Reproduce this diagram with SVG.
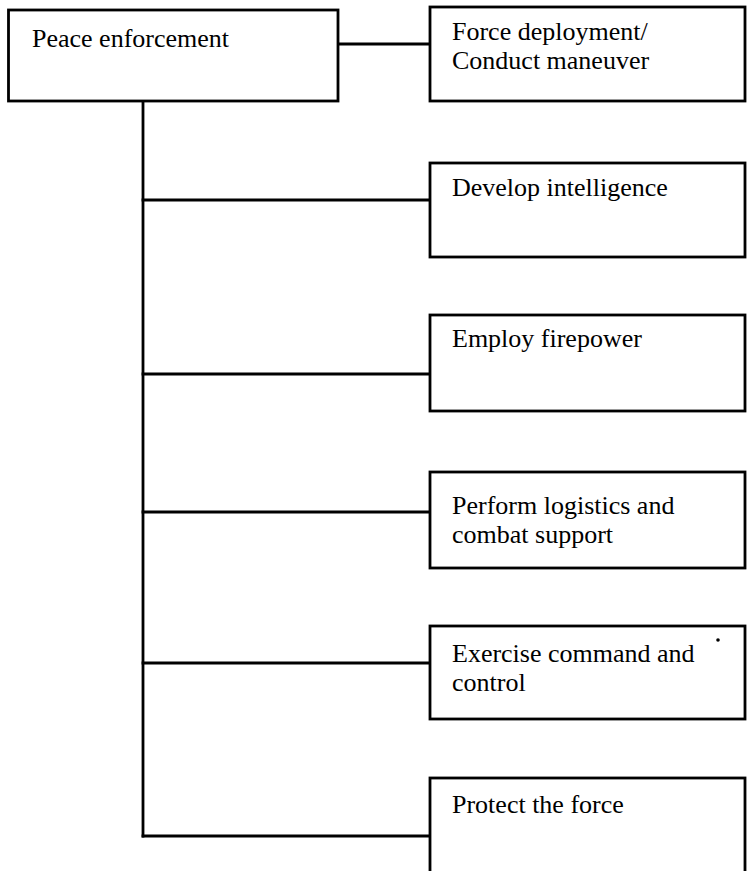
<svg xmlns="http://www.w3.org/2000/svg" width="747" height="871" viewBox="0 0 747 871">
  <style>
    .box { fill: #fff; stroke: #000; stroke-width: 2.8; }
    .wire { fill: none; stroke: #000; stroke-width: 2.8; stroke-linecap: square; }
    .label { font-family: "Liberation Serif", "Times New Roman", serif; font-size: 26px; fill: #000; }
  </style>
  <rect width="747" height="871" fill="#fff"/>

  <!-- connectors: root to first task, spine, and branches -->
  <g id="connectors">
    <line class="wire" x1="338" y1="44" x2="430" y2="44"/>
    <line class="wire" x1="143" y1="101" x2="143" y2="836"/>
    <line class="wire" x1="143" y1="200" x2="430" y2="200"/>
    <line class="wire" x1="143" y1="374" x2="430" y2="374"/>
    <line class="wire" x1="143" y1="512" x2="430" y2="512"/>
    <line class="wire" x1="143" y1="663" x2="430" y2="663"/>
    <line class="wire" x1="143" y1="836" x2="430" y2="836"/>
  </g>

  <g id="peace-enforcement">
    <rect class="box" x="8.5" y="10" width="329.5" height="91"/>
    <text class="label" x="32" y="47">Peace enforcement</text>
  </g>

  <g id="force-deployment">
    <rect class="box" x="430" y="7" width="315" height="94"/>
    <text class="label" x="452" y="40">Force deployment/</text>
    <text class="label" x="452" y="69">Conduct maneuver</text>
  </g>

  <g id="develop-intelligence">
    <rect class="box" x="430" y="163" width="315" height="94"/>
    <text class="label" x="452" y="196">Develop intelligence</text>
  </g>

  <g id="employ-firepower">
    <rect class="box" x="430" y="315" width="315" height="96"/>
    <text class="label" x="452" y="347">Employ firepower</text>
  </g>

  <g id="logistics">
    <rect class="box" x="430" y="472" width="315" height="96"/>
    <text class="label" x="452" y="514">Perform logistics and</text>
    <text class="label" x="452" y="543">combat support</text>
  </g>

  <g id="command-control">
    <rect class="box" x="430" y="626" width="315" height="93"/>
    <text class="label" x="452" y="662">Exercise command and</text>
    <text class="label" x="452" y="691">control</text>
    <circle cx="718" cy="640" r="1.8" fill="#000"/>
  </g>

  <g id="protect-force">
    <rect class="box" x="430" y="778" width="315" height="110"/>
    <text class="label" x="452" y="813">Protect the force</text>
  </g>
</svg>
